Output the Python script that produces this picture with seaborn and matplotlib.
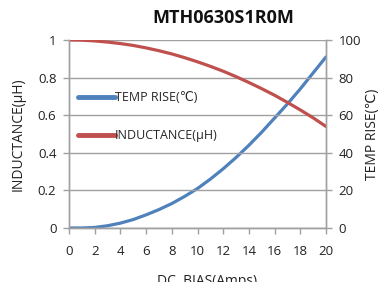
import numpy as np
import pandas as pd
import matplotlib
matplotlib.use("Agg")
import matplotlib.pyplot as plt
import seaborn as sns
from matplotlib.lines import Line2D
from matplotlib.patches import Rectangle

# values, one reading per amp
dc_bias = list(range(0, 21))
inductance = [1.0, 0.999, 0.995, 0.989, 0.981, 0.971, 0.958, 0.943, 0.926, 0.906, 0.884,
              0.860, 0.834, 0.805, 0.774, 0.741, 0.706, 0.668, 0.628, 0.586, 0.54]
temp_rise = [0, 0, 0.3, 1.2, 2.6, 4.5, 7, 9.8, 13, 16.8, 21,
             26, 31.5, 37.5, 44, 51, 58.5, 66, 74, 82.5, 91]

x_ticks = list(range(0, 21, 2))
ind_ticks = [0, 0.2, 0.4, 0.6, 0.8, 1]
ind_labels = ['0', '0.2', '0.4', '0.6', '0.8', '1']
temp_ticks = [0, 20, 40, 60, 80, 100]

BLUE = '#4F81BD'
RED = '#C0504D'
GRID = '#a0a0a0'
TEXT = '#222222'

sns.set_style("white")
plt.rcParams['font.family'] = ['Open Sans', 'DejaVu Sans']

df = pd.DataFrame({'dc_bias': dc_bias, 'inductance': inductance, 'temp_rise': temp_rise})

fig = plt.figure(figsize=(3.82, 2.91), dpi=100)
ax = fig.add_axes([69 / 382, 63 / 291, 257 / 382, 188 / 291])
ax2 = ax.twinx()

sns.lineplot(data=df, x='dc_bias', y='inductance', ax=ax, color=RED, linewidth=2.3)
sns.lineplot(data=df, x='dc_bias', y='temp_rise', ax=ax2, color=BLUE, linewidth=2.3)
ax.set_zorder(ax2.get_zorder() + 1)
ax.patch.set_visible(False)

ax.set_xlim(0, 20)
ax.set_ylim(0, 1)
ax2.set_ylim(0, 100)
ax.set_xticks(x_ticks)
ax.set_yticks(ind_ticks)
ax.set_yticklabels(ind_labels)
ax2.set_yticks(temp_ticks)

for a in (ax, ax2):
    a.spines['top'].set_visible(False)
    for side in ('left', 'right', 'bottom'):
        a.spines[side].set_color(GRID)
        a.spines[side].set_linewidth(1)
    a.tick_params(labelcolor=TEXT, color=GRID, labelsize=9.5, length=4, width=1)
    a.set_xlabel('')
    a.set_ylabel('')

ax.tick_params(axis='x', bottom=True, pad=8)
ax.tick_params(axis='y', left=True, pad=5)
ax2.tick_params(axis='y', right=True, pad=5)

ax.yaxis.grid(True, color=GRID, linewidth=1)
ax2.grid(False)

ax.set_ylabel('INDUCTANCE(μH)', fontsize=10, color=TEXT, labelpad=9)
ax2.set_ylabel('TEMP RISE(℃)', fontsize=10, color=TEXT, labelpad=3)

fig.text(223 / 382, 1 - 18 / 291, 'MTH0630S1R0M', ha='center', va='center',
         fontsize=13, fontweight='bold', color='#111111')
fig.text(207 / 382, 1 - 274 / 291, 'DC  BIAS(Amps)', ha='center', va='top',
         fontsize=10, color=TEXT)
# the reference is cropped through the axis title
fig.patches.append(Rectangle((0, 0), 1, 9 / 291, transform=fig.transFigure,
                             facecolor='white', edgecolor='none', zorder=5))

handles = [Line2D([], [], color=BLUE, linewidth=3.5),
           Line2D([], [], color=RED, linewidth=3.5)]
ax.legend(handles, ['TEMP RISE(℃)', 'INDUCTANCE(μH)'], loc='upper left',
          bbox_to_anchor=(0.0, 0.775), frameon=False, fontsize=9,
          handlelength=3.0, handletextpad=0.0, labelspacing=2.0, borderaxespad=0.3)

fig.savefig('out.png', dpi=100)
